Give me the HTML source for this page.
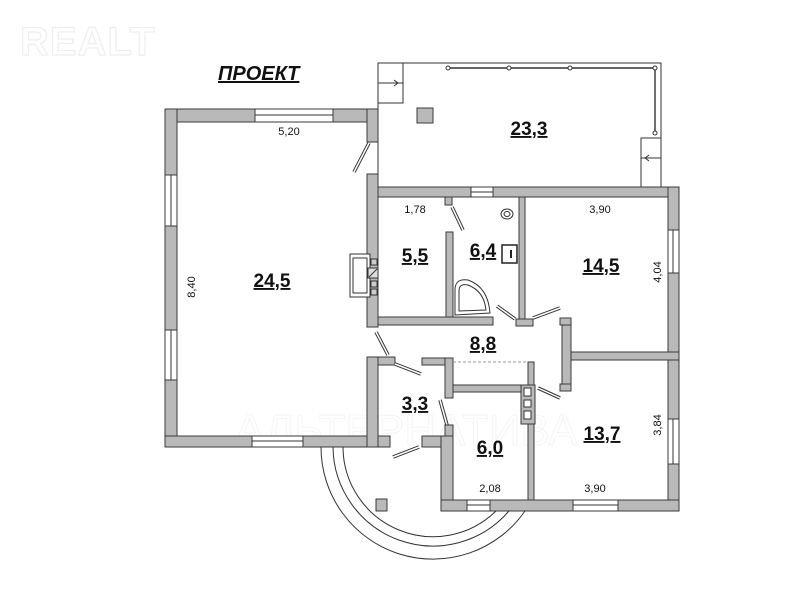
<!DOCTYPE html>
<html><head><meta charset="utf-8"><style>
html,body{margin:0;padding:0;background:#fff;}
svg{display:block}
text{font-family:"Liberation Sans",Arial,sans-serif;fill:#111}
.w{fill:#b9b9b9;stroke:#3a3a3a;stroke-width:1}
.win{fill:#fff;stroke:#3a3a3a;stroke-width:1}
.ln{stroke:#333;stroke-width:1;fill:none}
.leaf{stroke:#333;stroke-width:3.5;fill:none}
.leafi{stroke:#fff;stroke-width:1.5;fill:none}
.big{font-size:19px;font-weight:bold;text-decoration:underline;}
.dim{font-size:11px}
</style></head><body>
<svg width="800" height="599" viewBox="0 0 800 599" xmlns="http://www.w3.org/2000/svg">
<text x="20" y="55" style="font-size:40px;font-weight:bold;fill:#fff;stroke:#eee;stroke-width:1.2;letter-spacing:1px">REALT</text>
<text x="235" y="445" style="font-size:44px;fill:#fff;stroke:#f4f4f4;stroke-width:1">АЛЬТЕРНАТИВА</text>

<!-- terrace outline -->
<path class="ln" d="M378 187 L378 63 L661 63 L661 187"/>
<rect x="378" y="63" width="25" height="40" fill="#fff" stroke="#333"/>
<line class="ln" x1="378" y1="83" x2="403" y2="83"/>
<path class="ln" d="M383 83 L398 83 M394 80 L398 83 L394 86"/>
<rect x="641" y="138" width="20" height="49" fill="#fff" stroke="#333"/>
<line class="ln" x1="641" y1="158" x2="661" y2="158"/>
<path class="ln" d="M658 158 L645 158 M649 155 L645 158 L649 161"/>
<path d="M448 68 L655 68 L655 133" stroke="#333" stroke-width="2" fill="none"/>
<path d="M448 68 L655 68 L655 133" stroke="#fff" stroke-width="0.6" fill="none"/>
<g fill="#fff" stroke="#333"><circle cx="448" cy="68" r="2"/><circle cx="509" cy="68" r="2"/><circle cx="570" cy="68" r="2"/><circle cx="655" cy="68" r="2"/><circle cx="655" cy="133" r="2"/></g>
<rect class="w" x="417" y="108" width="16" height="15"/>

<!-- left room walls -->
<rect class="w" x="165" y="109" width="213" height="13"/>
<rect class="w" x="165" y="109" width="12" height="338"/>
<rect class="w" x="165" y="436" width="225" height="11"/>
<rect class="w" x="367" y="109" width="11" height="33"/>
<rect class="win" x="255" y="109" width="78" height="13"/><line class="ln" x1="255" y1="115" x2="333" y2="115"/>
<rect class="win" x="165" y="175" width="12" height="51"/><line class="ln" x1="171" y1="175" x2="171" y2="226"/>
<rect class="win" x="165" y="330" width="12" height="50"/><line class="ln" x1="171" y1="330" x2="171" y2="380"/>
<rect class="win" x="252" y="436" width="51" height="11"/><line class="ln" x1="252" y1="441" x2="303" y2="441"/>
<line class="leaf" x1="354" y1="172" x2="369" y2="143"/><line class="leafi" x1="354" y1="172" x2="369" y2="143"/>

<!-- central vertical wall -->
<rect class="w" x="367" y="174" width="11" height="153"/>
<rect class="w" x="367" y="357" width="11" height="90"/>

<!-- top wall of middle block -->
<rect class="w" x="378" y="187" width="301" height="10"/>
<rect class="win" x="471" y="187" width="22" height="10"/><line class="ln" x1="471" y1="192" x2="493" y2="192"/>
<rect class="w" x="668" y="187" width="11" height="324"/>
<rect class="win" x="668" y="230" width="11" height="43"/><line class="ln" x1="673" y1="230" x2="673" y2="273"/>
<rect class="win" x="668" y="419" width="11" height="45"/><line class="ln" x1="673" y1="419" x2="673" y2="464"/>

<!-- 5.5 / 6.4 -->
<rect class="w" x="445" y="197" width="7" height="8"/>
<line class="leaf" x1="452" y1="207" x2="463" y2="230"/><line class="leafi" x1="452" y1="207" x2="463" y2="230"/>
<rect class="w" x="446" y="232" width="7" height="86"/>
<rect class="w" x="378" y="317" width="115" height="8"/>
<rect class="w" x="519" y="197" width="6" height="122"/>
<rect class="w" x="516" y="319" width="17" height="7"/>
<ellipse cx="507" cy="214" rx="6" ry="5" fill="#fff" stroke="#333"/><ellipse cx="507" cy="214" rx="3" ry="2.5" fill="#fff" stroke="#333"/>
<rect x="502" y="245" width="15" height="18" fill="#fff" stroke="#222" stroke-width="1.5"/><line x1="511" y1="250" x2="511" y2="258" stroke="#222" stroke-width="2"/>
<path d="M455 315 L455 290 Q455 278 468 280 Q488 287 490 313 Z" fill="#fff" stroke="#333"/>
<path d="M459 311 L459 291 Q459 283 468 285 Q484 291 486 310 Z" fill="none" stroke="#333"/>
<line class="leaf" x1="497" y1="306" x2="515" y2="319"/><line class="leafi" x1="497" y1="306" x2="515" y2="319"/>
<line class="leaf" x1="533" y1="318" x2="560" y2="308"/><line class="leafi" x1="533" y1="318" x2="560" y2="308"/>

<!-- stove -->
<rect x="350" y="254" width="20" height="43" fill="#fff" stroke="#333"/>
<rect x="353" y="258" width="14" height="35" fill="#fff" stroke="#333"/>
<rect x="368" y="268" width="10" height="10" fill="#ddd" stroke="#333"/><line class="ln" x1="369" y1="277" x2="377" y2="269"/>
<g fill="#ccc" stroke="#333"><rect x="371" y="259" width="6" height="6"/><rect x="371" y="281" width="6" height="6"/><rect x="371" y="289" width="6" height="6"/></g>

<!-- right bracket wall & horizontal -->
<rect class="w" x="562" y="318" width="9" height="72"/>
<rect class="w" x="560" y="318" width="11" height="7"/>
<rect class="w" x="560" y="384" width="11" height="7"/>
<rect class="w" x="571" y="352" width="108" height="8"/>

<!-- 8.8 / 3.3 -->
<line class="leaf" x1="376" y1="332" x2="388" y2="355"/><line class="leafi" x1="376" y1="332" x2="388" y2="355"/>
<rect class="w" x="378" y="357" width="17" height="8"/>
<line class="leaf" x1="395" y1="364" x2="421" y2="374"/><line class="leafi" x1="395" y1="364" x2="421" y2="374"/>
<rect class="w" x="422" y="358" width="31" height="7"/>
<rect class="w" x="445" y="358" width="8" height="40"/>
<line x1="453" y1="362" x2="528" y2="362" stroke="#999" stroke-dasharray="3,2"/>
<rect class="w" x="453" y="385" width="76" height="7"/>
<rect class="w" x="528" y="362" width="6" height="138"/>
<rect class="w" x="521" y="385" width="14" height="39"/>
<g fill="#fff" stroke="#333"><rect x="524" y="388" width="7" height="8"/><rect x="524" y="400" width="7" height="7"/><rect x="524" y="411" width="7" height="8"/></g>
<line class="leaf" x1="538" y1="388" x2="560" y2="398"/><line class="leafi" x1="538" y1="388" x2="560" y2="398"/>
<line class="leaf" x1="440" y1="400" x2="447" y2="425"/><line class="leafi" x1="440" y1="400" x2="447" y2="425"/>
<rect class="w" x="445" y="425" width="8" height="12"/>
<line class="leaf" x1="393" y1="457" x2="419" y2="447"/><line class="leafi" x1="393" y1="457" x2="419" y2="447"/>
<rect class="w" x="422" y="436" width="31" height="11"/>
<rect class="w" x="441" y="436" width="12" height="75"/>
<rect class="w" x="441" y="500" width="238" height="11"/>
<rect class="win" x="467" y="500" width="23" height="11"/><line class="ln" x1="467" y1="505" x2="490" y2="505"/>
<rect class="win" x="573" y="500" width="45" height="11"/><line class="ln" x1="573" y1="505" x2="618" y2="505"/>

<!-- porch arcs -->
<path class="ln" d="M321 447 A112 112 0 0 0 525 511"/>
<path class="ln" d="M333 447 A100 100 0 0 0 509 511"/>
<path class="ln" d="M343 447 A90 90 0 0 0 496 511"/>
<rect class="w" x="376" y="499" width="11" height="12"/>

<!-- labels -->
<text x="218" y="80" style="font-size:20px;font-weight:bold;font-style:italic;text-decoration:underline">ПРОЕКТ</text>
<text class="big" x="529" y="135" text-anchor="middle">23,3</text>
<text class="big" x="272" y="287" text-anchor="middle">24,5</text>
<text class="big" x="415" y="262" text-anchor="middle">5,5</text>
<text class="big" x="483" y="257" text-anchor="middle">6,4</text>
<text class="big" x="601" y="272" text-anchor="middle">14,5</text>
<text class="big" x="483" y="350" text-anchor="middle">8,8</text>
<text class="big" x="415" y="410" text-anchor="middle">3,3</text>
<text class="big" x="490" y="454" text-anchor="middle">6,0</text>
<text class="big" x="602" y="440" text-anchor="middle">13,7</text>
<text class="dim" x="289" y="135" text-anchor="middle">5,20</text>
<text class="dim" x="415" y="213" text-anchor="middle">1,78</text>
<text class="dim" x="600" y="213" text-anchor="middle">3,90</text>
<text class="dim" x="490" y="492" text-anchor="middle">2,08</text>
<text class="dim" x="595" y="492" text-anchor="middle">3,90</text>
<text class="dim" transform="translate(195,287) rotate(-90)" text-anchor="middle">8,40</text>
<text class="dim" transform="translate(661,272) rotate(-90)" text-anchor="middle">4,04</text>
<text class="dim" transform="translate(661,425) rotate(-90)" text-anchor="middle">3,84</text>
</svg>
</body></html>
